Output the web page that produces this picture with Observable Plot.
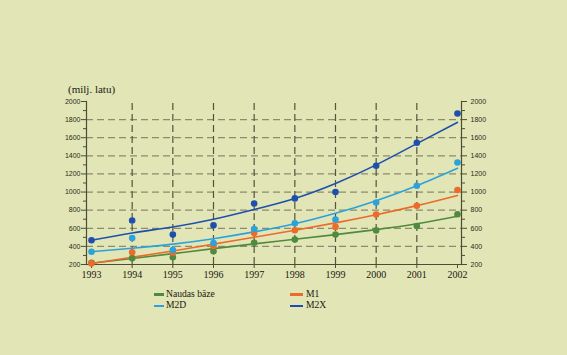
<!DOCTYPE html>
<html><head><meta charset="utf-8">
<script src="https://cdn.jsdelivr.net/npm/d3@7"></script>
<script src="https://cdn.jsdelivr.net/npm/@observablehq/plot@0.6"></script>
<style>
html,body{margin:0;padding:0;background:#e2e5b6;}
#wrap{position:relative;width:567px;height:355px;overflow:hidden;background:#e2e5b6;}
#unit{position:absolute;left:68px;top:83px;font:11px "Liberation Serif",serif;color:#1a1a10;}
.leg{position:absolute;font:9.6px "Liberation Serif",serif;color:#1a1a10;white-space:nowrap;}
.sw{position:absolute;height:2.5px;}
</style></head>
<body><div id="wrap"><div id="unit">(milj. latu)</div></div>
<script>
const years = [1993,1994,1995,1996,1997,1998,1999,2000,2001,2002];
const seriesNames = ["Naudas bāze","M1","M2D","M2X"];
const seriesColors = ["#4f8a3e","#ec6a2a","#2aa2dc","#1d4fae"];
const naudas = [220,270,280,345,440,475,530,575,625,755];
const m1     = [212,335,330,405,548,578,615,752,848,1022];
const m2d    = [341,492,359,437,592,655,697,885,1070,1326];
const m2x    = [467,686,530,633,874,930,1000,1290,1544,1867];
const naudasTrend = [214,266,320,375,428,478,530,585,650,733];
const m1Trend     = [211,280,350,425,500,578,660,750,850,963];
const m2dTrend    = [341,380,425,485,560,650,765,905,1070,1263];
const m2xTrend    = [467,548,615,700,808,930,1095,1300,1535,1770];
const yTicks = [200,400,600,800,1000,1200,1400,1600,1800,2000];
const yMinor = [300,500,700,900,1100,1300,1500,1700,1900];
const yGrid = [400,600,800,1000,1200,1400,1600,1800];
const xGrid = [1994,1995,1996,1997,1998,1999,2000,2001];

const pts = [], trends = [];
[naudas,m1,m2d,m2x].forEach((arr,i)=>arr.forEach((v,j)=>pts.push({s:seriesNames[i],x:years[j],y:v})));
[naudasTrend,m1Trend,m2dTrend,m2xTrend].forEach((arr,i)=>arr.forEach((v,j)=>trends.push({s:seriesNames[i],x:years[j],y:v})));

const axisCol = "#4d4d33";
const chart = Plot.plot({
  width:567, height:290,
  marginLeft:86, marginRight:106, marginTop:101, marginBottom:26,
  style:{background:"transparent", overflow:"visible"},
  x:{domain:[1993,2002], insetLeft:5, insetRight:4},
  y:{domain:[200,2000]},
  color:{domain:seriesNames, range:seriesColors},
  marks:[
    Plot.ruleY(yGrid,{stroke:"#8c8c6e", strokeWidth:1.3, strokeDasharray:"7,4"}),
    Plot.ruleX(xGrid,{y1:200, y2:2000, stroke:"#55553a", strokeWidth:1.2, strokeDasharray:"7,4"}),
    Plot.frame({anchor:"left", stroke:axisCol, strokeWidth:1.2}),
    Plot.frame({anchor:"right", stroke:axisCol, strokeWidth:1.2}),
    Plot.frame({anchor:"bottom", stroke:axisCol, strokeWidth:1.2}),
    Plot.axisY(yTicks,{anchor:"left", tickSize:5, tickPadding:1, stroke:axisCol, fill:"#2a2a1a", fontSize:7, fontFamily:"Liberation Sans, sans-serif", label:null, tickFormat:d=>String(d)}),
    Plot.axisY(yTicks,{anchor:"right", tickSize:5, tickPadding:4, stroke:axisCol, fill:"#2a2a1a", fontSize:7, fontFamily:"Liberation Sans, sans-serif", label:null, tickFormat:d=>String(d)}),
    Plot.axisY(yMinor,{anchor:"left", tickSize:3, text:null, stroke:axisCol, label:null}),
    Plot.axisY(yMinor,{anchor:"right", tickSize:3, text:null, stroke:axisCol, label:null}),
    Plot.axisX(years,{anchor:"bottom", tickSize:4, tickPadding:2, stroke:axisCol, fill:"#1a1a10", fontSize:10, fontFamily:"Liberation Serif, serif", label:null, tickFormat:d=>String(d)}),
    Plot.line(trends,{x:"x", y:"y", z:"s", stroke:"s", strokeWidth:1.6, curve:"natural"}),
    Plot.dot(pts,{x:"x", y:"y", fill:"s", r:3.3, stroke:"none"})
  ]
});
document.getElementById("wrap").appendChild(chart);
chart.style.position="absolute"; chart.style.left="0"; chart.style.top="0";

const legPos = [[154,294,10,166],[290,294,13,306],[154,305.5,10,166],[290,305.5,13,306]];
seriesNames.forEach((n,i)=>{
  const [x,y,w,tx]=legPos[i];
  const sw=document.createElement("div"); sw.className="sw";
  sw.style.left=x+"px"; sw.style.top=(y-1)+"px"; sw.style.width=w+"px"; sw.style.background=seriesColors[i];
  document.getElementById("wrap").appendChild(sw);
  const t=document.createElement("div"); t.className="leg"; t.textContent=n;
  t.style.left=tx+"px"; t.style.top=(y-6.5)+"px";
  document.getElementById("wrap").appendChild(t);
});
</script></body></html>
